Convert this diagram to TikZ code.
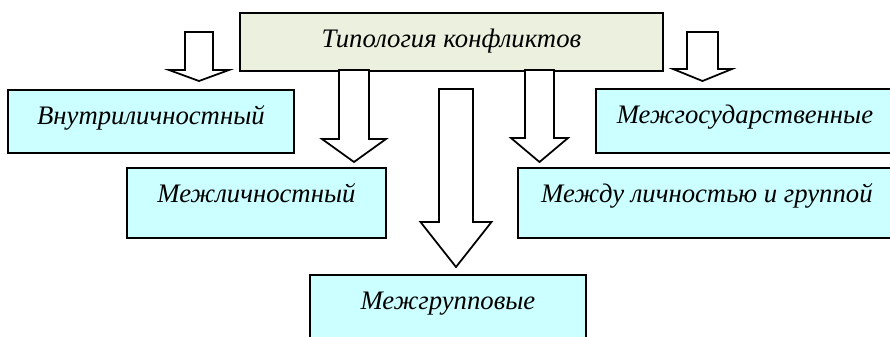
\documentclass[tikz,border=0pt]{standalone}
\usepackage{fontspec}
\setmainfont{Liberation Serif}

\definecolor{typecyan}{RGB}{204,255,255}
\definecolor{typegreen}{RGB}{235,241,222}

\tikzset{
	typebox/.style n args={2}{draw, line width=1.1pt, fill=typecyan, anchor=north west,
		inner sep=0pt, minimum width=#1, text height=0.7cm, text depth=#2,
		font=\fontsize{15.2}{18}\selectfont\itshape},
	arrowline/.style={draw, line width=1pt, fill=white, line join=miter}
}

% block arrow: x, half shaft, half head, top, end of shaft, tip
\newcommand{\typearrow}[6]{
	\draw[arrowline] ({#1-#2},#4) -- ({#1-#2},#5) -- ({#1-#3},#5) -- (#1,#6)
		-- ({#1+#3},#5) -- ({#1+#2},#5) -- ({#1+#2},#4) -- cycle;
}

\begin{document}
\begin{tikzpicture}[x=0.02cm, y=-0.02cm]
	\useasboundingbox (0,0) rectangle (890,336);
	\clip (0,0) rectangle (890,336);

	\node[typebox={8.46cm}{0.46cm}, fill=typegreen] (typology) at (239,12) {Типология конфликтов};

	\node[typebox={5.72cm}{0.56cm}] (intra) at (7,89) {Внутриличностный};
	\node[typebox={5.18cm}{0.7cm}] (inter) at (126,167) {Межличностный};
	\node[typebox={5.52cm}{0.6cm}] (group) at (309,274) {Межгрупповые};
	\node[typebox={7.56cm}{0.7cm}] (persgroup) at (517,167) {Между личностью и группой};
	\node[typebox={5.96cm}{0.58cm}] (state) at (595,88) {Межгосударственные};

	\typearrow{199}{14}{30}{32}{70}{81}
	\typearrow{354}{15}{32}{70}{139}{162}
	\typearrow{456}{17}{35.5}{89}{222}{267}
	\typearrow{539.5}{14.5}{28.5}{70}{138}{162}
	\typearrow{702.5}{15.5}{29.5}{32}{69}{81}
\end{tikzpicture}
\end{document}
